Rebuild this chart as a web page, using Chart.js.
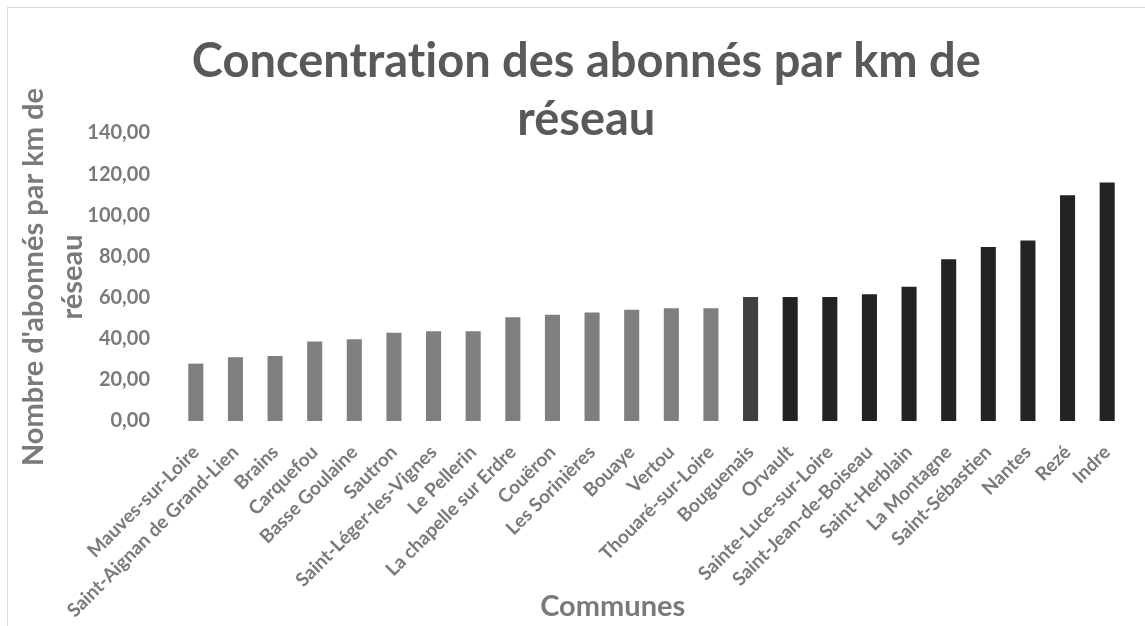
<!DOCTYPE html>
<html>
<head>
<meta charset="utf-8">
<script src="https://cdn.jsdelivr.net/npm/chart.js@4/dist/chart.umd.min.js"></script>
<style>
  html, body { margin: 0; padding: 0; background: #fff; }
  #wrap { position: relative; width: 1145px; height: 626px; overflow: hidden; }
  #frame { position: absolute; left: 7px; top: 7px; width: 1200px; height: 700px;
           border-left: 1px solid #d9d9d9; border-top: 1px solid #d9d9d9; pointer-events: none; }
  canvas { position: absolute; left: 0; top: 0; }
</style>
</head>
<body>
<div id="wrap">
  <canvas id="c" width="1145" height="626"></canvas>
  <div id="frame"></div>
</div>
<script>
const communes = ["Mauves-sur-Loire","Saint-Aignan de Grand-Lien","Brains","Carquefou","Basse Goulaine","Sautron","Saint-Léger-les-Vignes","Le Pellerin","La chapelle sur Erdre","Couëron","Les Sorinières","Bouaye","Vertou","Thouaré-sur-Loire","Bouguenais","Orvault","Sainte-Luce-sur-Loire","Saint-Jean-de-Boiseau","Saint-Herblain","La Montagne","Saint-Sébastien","Nantes","Rezé","Indre"];
const abonnesParKm = [27.9,31.0,31.6,38.6,39.7,42.9,43.6,43.6,50.4,51.7,52.8,54.1,54.8,54.8,60.3,60.3,60.3,61.6,65.3,78.6,84.6,87.8,109.7,115.9];
const titleLines = ["Concentrat\u200Cion des abonnés par km de", "réseau"];
const yTitleLines = ["Nombre d'abonnés par km de", "réseau"];
const xTitle = "Communes";
const yTicks = [0, 20, 40, 60, 80, 100, 120, 140];

const GRAY = "#7f7f7f", DARK = "#232323", MID = "#404040";
const barColors = communes.map((_, i) => i < 14 ? GRAY : (i === 14 ? MID : DARK));
const TXT = "#7a7a7a";
const FONT = "Lato";
// Text offsets (pure layout): shift centred titles like the reference
const padL = (s, n) => "\u00A0".repeat(n) + s;
const padR = (s, n) => s + "\u00A0".repeat(n);

new Chart(document.getElementById("c"), {
  type: "bar",
  data: {
    labels: communes,
    datasets: [{
      data: abonnesParKm,
      backgroundColor: barColors,
      borderWidth: 0,
      barPercentage: 0.38,
      categoryPercentage: 1.0
    }]
  },
  options: {
    responsive: false,
    animation: false,
    devicePixelRatio: 1,
    layout: { padding: { left: 0, right: 18, top: 0, bottom: 0 } },
    plugins: {
      legend: { display: false },
      tooltip: { enabled: false },
      title: {
        display: true,
        text: titleLines.map(t => padL(t, 4)),
        color: "#595959",
        font: { family: FONT, size: 47, weight: "bold", lineHeight: 58 / 47 },
        padding: { top: 33, bottom: -16 }
      }
    },
    scales: {
      x: {
        grid: { display: false, drawTicks: false },
        border: { display: false },
        ticks: {
          autoSkip: false, maxRotation: 45, minRotation: 45,
          color: TXT, padding: 20,
          font: { family: FONT, size: 19, weight: "bold" }
        },
        title: {
          display: true, text: padR(xTitle, 11), color: TXT,
          font: { family: FONT, size: 29, weight: "bold", lineHeight: 1.2 },
          padding: { top: 0, bottom: 2 }
        },
        afterFit: (s) => { s.height = 205; }
      },
      y: {
        min: 0, max: 140,
        grid: { display: false, drawTicks: false },
        border: { display: false },
        afterBuildTicks: (s) => { s.ticks = yTicks.map(v => ({ value: v })); },
        ticks: {
          color: TXT, padding: 26,
          font: { family: FONT, size: 20, weight: "bold" },
          callback: (v) => Number(v).toFixed(2).replace(".", ",")
        },
        title: {
          display: true, text: yTitleLines, color: TXT,
          font: { family: FONT, size: 29, weight: "bold", lineHeight: 39 / 29 },
          padding: { top: 14, bottom: 0 }
        },
        afterFit: (s) => { s.width = 176; }
      }
    }
  }
});
</script>
</body>
</html>
